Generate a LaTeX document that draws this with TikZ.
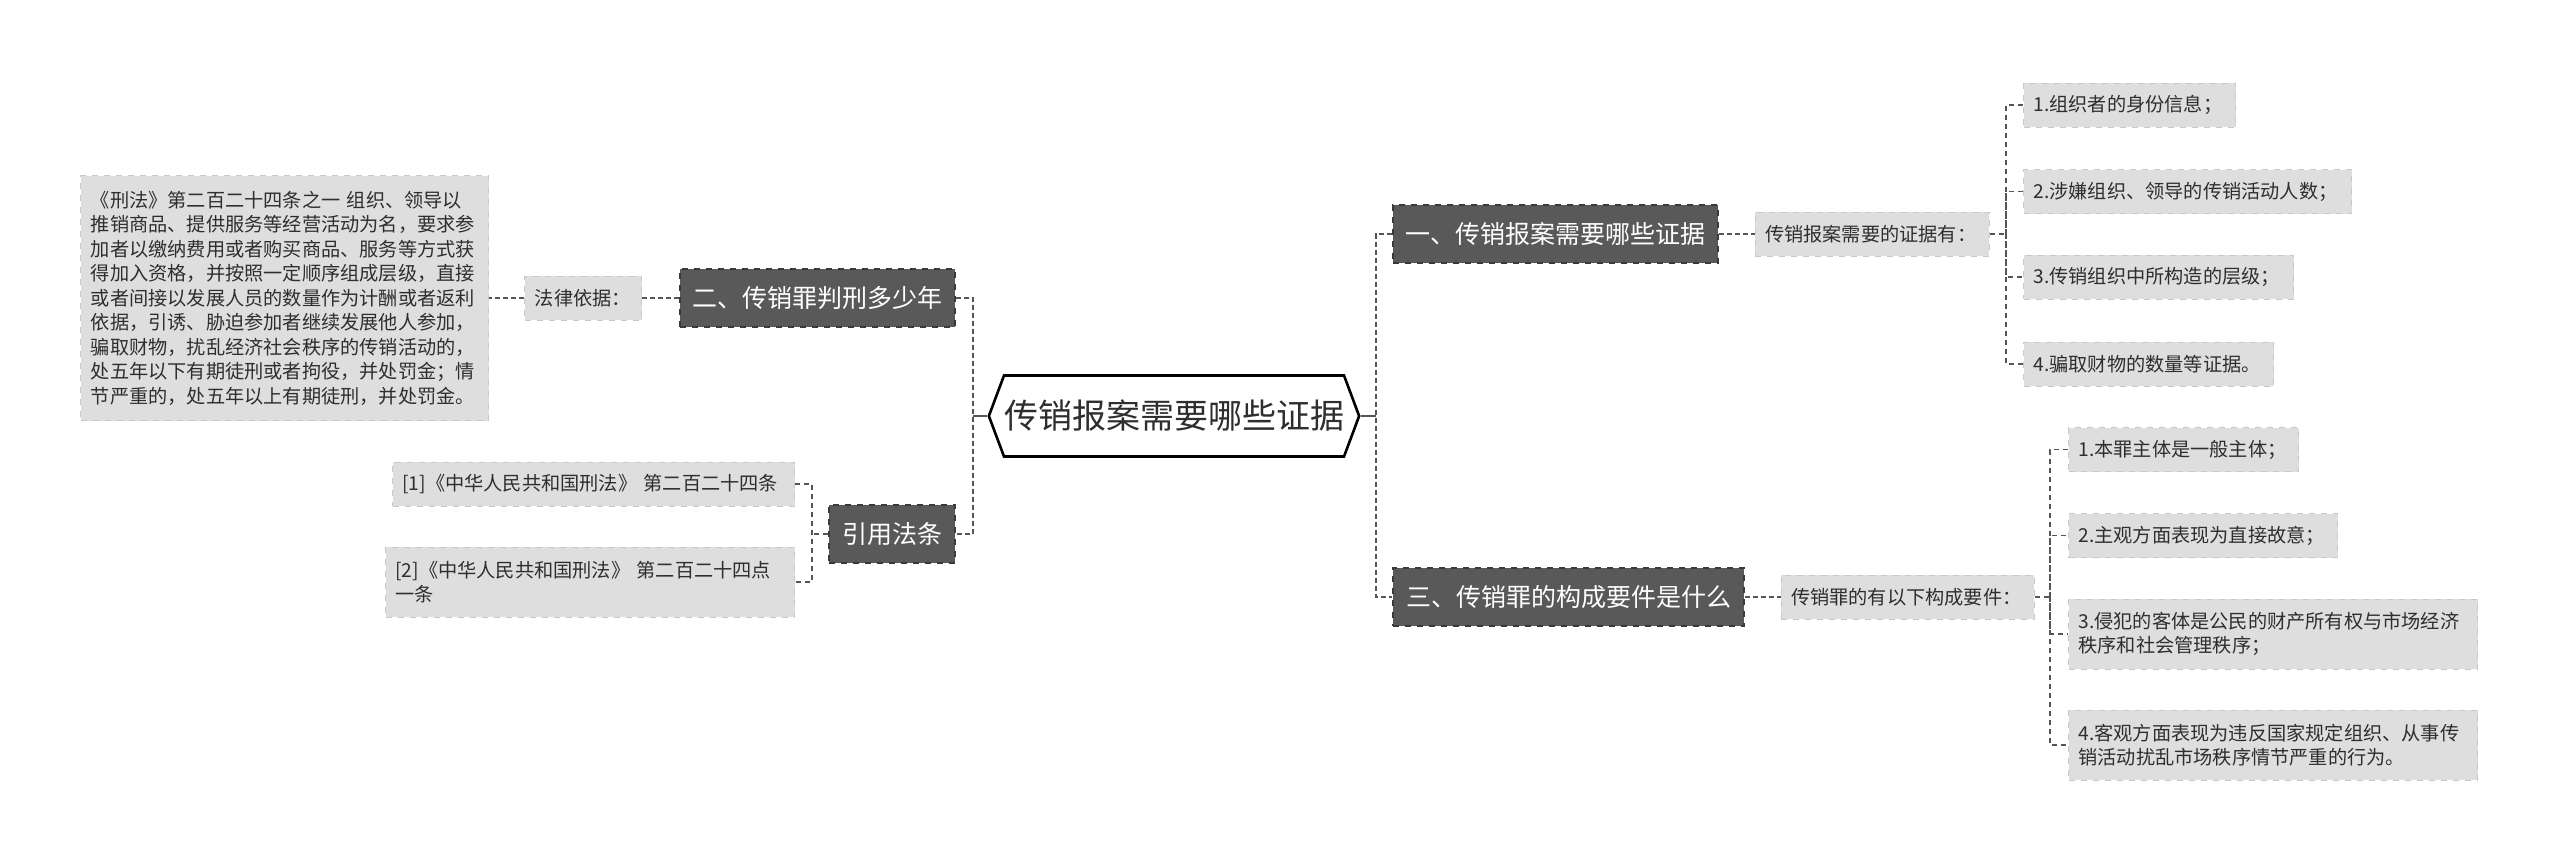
\documentclass[tikz,border=0pt]{standalone}
\usepackage{fontspec}
\setmainfont{Noto Sans CJK SC}
\usetikzlibrary{positioning,shapes.symbols}
\definecolor{boxdark}{HTML}{595959}
\definecolor{boxedge}{HTML}{3A3A3A}
\definecolor{boxlight}{HTML}{DEDEDE}
\definecolor{lightedge}{HTML}{C8C8C8}
\definecolor{linkgray}{HTML}{555555}
\definecolor{inkgray}{HTML}{2E2E2E}

\begin{document}
\begin{tikzpicture}[
  x=0.5pt, y=-0.5pt,
  node distance=18pt,
  hexa/.style={signal, signal to=west and east, signal pointer angle=139,
               draw=black, line width=1.3pt, fill=white, inner sep=0pt,
               minimum width=167.5pt, minimum height=40.5pt, text=inkgray,
               font=\fontsize{17}{20}\selectfont},
  topic/.style={draw=boxedge, dashed, line width=0.6pt, fill=boxdark,
                text=white, inner sep=0pt, minimum height=29pt,
                font=\fontsize{12.5}{14}\selectfont},
  note/.style={draw=lightedge, dashed, line width=0.5pt, fill=boxlight,
               text=inkgray, inner xsep=5pt, inner ysep=0pt, align=left,
               minimum height=22pt, font=\fontsize{9.6}{12.25}\selectfont},
  link/.style={draw=linkgray, line width=1pt, dash pattern=on 2.5pt off 1.5pt},
  twig/.style={draw=linkgray, line width=0.6pt, dash pattern=on 2.5pt off 2pt}
]
  \useasboundingbox (0,0) rectangle (2560,863);

  % centre and main topics
  \node[hexa] (root) at (1174,416) {传销报案需要哪些证据};
  \node[topic, minimum width=162.5pt] (evid) at (1555.5,234) {一、传销报案需要哪些证据};
  \node[topic, minimum width=137.5pt] (term) at (817.5,298) {二、传销罪判刑多少年};
  \node[topic, minimum width=175.5pt] (elem) at (1568.5,597) {三、传销罪的构成要件是什么};
  \node[topic, minimum width=63pt] (cite) at (892,534) {引用法条};

  % second level
  \node[note, text width=107pt, right=of evid] (evidlist) {传销报案需要的证据有：};
  \node[note, text width=116.5pt, right=of elem] (elemlist) {传销罪的有以下构成要件：};
  \node[note, text width=48.5pt, left=18.5pt of term] (basis) {法律依据：};
  \node[note, text width=194pt, minimum height=122.5pt, left=17.5pt of basis] (article)
    {《刑法》第二百二十四条之一 组织、领导以\\
     推销商品、提供服务等经营活动为名，要求参\\
     加者以缴纳费用或者购买商品、服务等方式获\\
     得加入资格，并按照一定顺序组成层级，直接\\
     或者间接以发展人员的数量作为计酬或者返利\\
     依据，引诱、胁迫参加者继续发展他人参加，\\
     骗取财物，扰乱经济社会秩序的传销活动的，\\
     处五年以下有期徒刑或者拘役，并处罚金；情\\
     节严重的，处五年以上有期徒刑，并处罚金。};
  \node[note, text width=191pt, anchor=west] (law1) at (392,484)
    {[1]《中华人民共和国刑法》 第二百二十四条};
  \node[note, text width=194.5pt, minimum height=35pt, anchor=west] (law2) at (385,582)
    {[2]《中华人民共和国刑法》 第二百二十四点\\一条};

  % leaves, right
  \node[note, text width=96pt, anchor=west] (ev1) at (2023,105) {1.组织者的身份信息；};
  \node[note, text width=154pt, anchor=west] (ev2) at (2023,191.5) {2.涉嫌组织、领导的传销活动人数；};
  \node[note, text width=125pt, anchor=west] (ev3) at (2023,277) {3.传销组织中所构造的层级；};
  \node[note, text width=115pt, anchor=west] (ev4) at (2023,364) {4.骗取财物的数量等证据。};
  \node[note, text width=105pt, anchor=west] (el1) at (2068,449.5) {1.本罪主体是一般主体；};
  \node[note, text width=124.5pt, anchor=west] (el2) at (2068,535.5) {2.主观方面表现为直接故意；};
  \node[note, text width=194.5pt, minimum height=35pt, anchor=west] (el3) at (2068,634)
    {3.侵犯的客体是公民的财产所有权与市场经济\\秩序和社会管理秩序；};
  \node[note, text width=194.5pt, minimum height=35pt, anchor=west] (el4) at (2068,745)
    {4.客观方面表现为违反国家规定组织、从事传\\销活动扰乱市场秩序情节严重的行为。};

  % branch points
  \coordinate (lspine) at (973,416);
  \coordinate (rspine) at (1376,416);
  \coordinate (citefork) at (812,534);
  \coordinate (evidfork) at (2006,234);
  \coordinate (elemfork) at (2050,597);

  \draw[draw=linkgray, line width=1pt] (root.west) -- (lspine);
  \draw[draw=linkgray, line width=1pt] (root.east) -- (rspine);
  \draw[link] (term.east) -| (lspine) |- (cite.east);
  \draw[link] (evid.west) -| (rspine) |- (elem.west);
  \draw[link] (term.west) -- (basis.east);
  \draw[link] (basis.west) -- (article.east);
  \draw[link] (evid.east) -- (evidlist.west);
  \draw[link] (elem.east) -- (elemlist.west);
  \draw[twig] (cite.west) -- (citefork);
  \draw[twig] (law1.east) -| (citefork) |- (law2.east);
  \draw[twig] (evidlist.east) -- (evidfork);
  \draw[twig] (ev1.west) -| (evidfork) |- (ev4.west);
  \draw[twig] (evidfork) |- (ev2.west);
  \draw[twig] (evidfork) |- (ev3.west);
  \draw[twig] (elemlist.east) -- (elemfork);
  \draw[twig] (el1.west) -| (elemfork) |- (el4.west);
  \draw[twig] (elemfork) |- (el2.west);
  \draw[twig] (elemfork) |- (el3.west);
\end{tikzpicture}
\end{document}
